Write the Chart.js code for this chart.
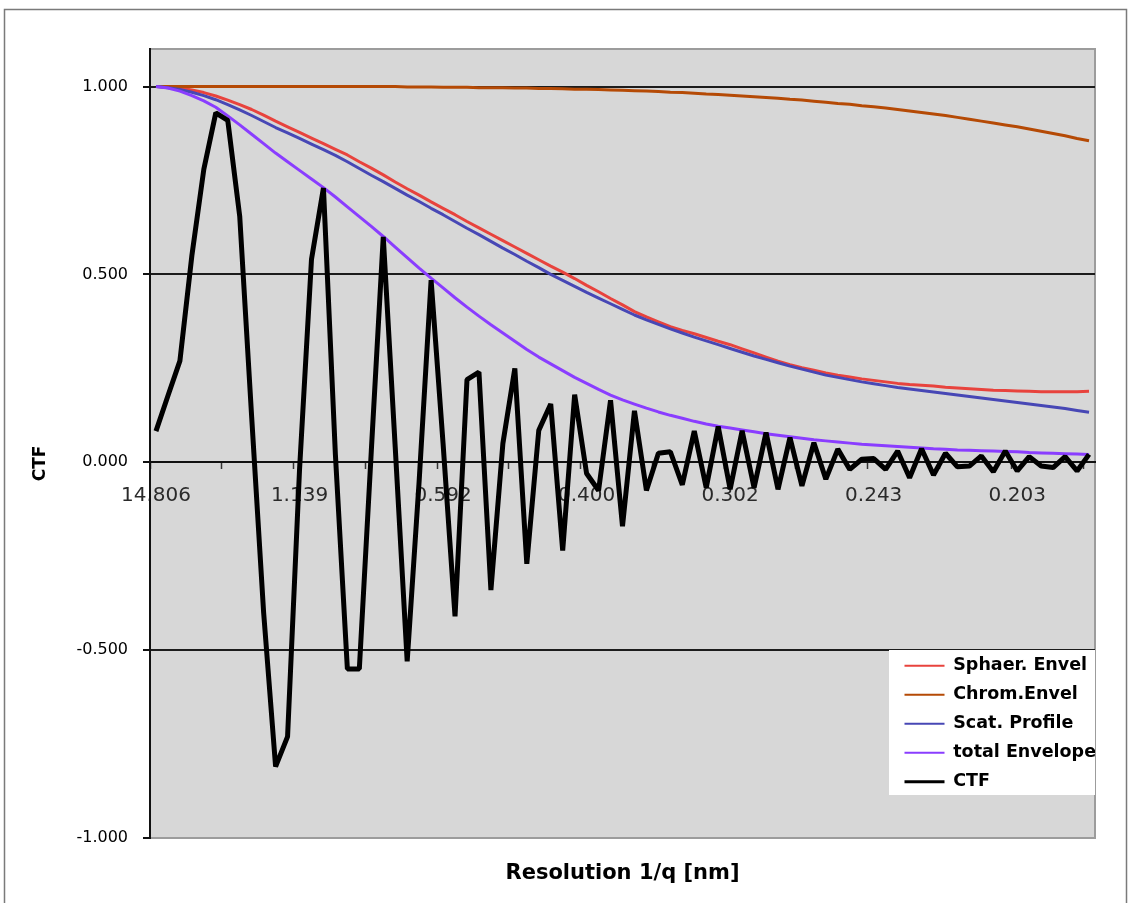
<!DOCTYPE html>
<html>
<head>
<meta charset="utf-8">
<title>CTF</title>
<script src="https://cdn.jsdelivr.net/npm/chart.js@4/dist/chart.umd.min.js"></script>
<style>
  html, body { margin: 0; padding: 0; background: #ffffff; }
  #c { display: block; }
</style>
</head>
<body>
<canvas id="c" width="1131" height="903"></canvas>
<script>
// ---- categories: resolution 1/q [nm] ----
const categories = [
  '14.806','7.403','4.935','3.702','2.961','2.468','2.115','1.851','1.645','1.481',
  '1.346','1.234','1.139','1.058','0.987','0.925','0.871','0.823','0.779','0.740',
  '0.705','0.673','0.644','0.617','0.592','0.569','0.548','0.529','0.511','0.494',
  '0.478','0.463','0.449','0.435','0.423','0.411','0.400','0.390','0.380','0.370',
  '0.361','0.353','0.344','0.337','0.329','0.322','0.315','0.308','0.302','0.296',
  '0.290','0.285','0.279','0.274','0.269','0.264','0.260','0.255','0.251','0.247',
  '0.243','0.239','0.235','0.231','0.228','0.224','0.221','0.218','0.215','0.212',
  '0.209','0.206','0.203','0.200','0.197','0.195','0.192','0.190','0.187'
];
// ---- tick labels ----
const tickLabels = ['14.806','1.139','0.592','0.400','0.302','0.243','0.203'];
const yTickValues = [-1, -0.5, 0, 0.5, 1];

// ---- series ----
const sphaerEnvel = [
  1.000, 0.999, 0.996, 0.991, 0.984, 0.975, 0.964, 0.952, 0.939, 0.924,
  0.908, 0.893, 0.878, 0.863, 0.848, 0.833, 0.818, 0.800, 0.783, 0.765,
  0.746, 0.728, 0.711, 0.693, 0.676, 0.659, 0.641, 0.624, 0.607, 0.590,
  0.573, 0.556, 0.539, 0.522, 0.506, 0.489, 0.471, 0.454, 0.436, 0.419,
  0.401, 0.387, 0.374, 0.361, 0.351, 0.342, 0.332, 0.322, 0.313, 0.302,
  0.291, 0.280, 0.269, 0.260, 0.252, 0.245, 0.238, 0.232, 0.227, 0.222,
  0.218, 0.214, 0.210, 0.207, 0.205, 0.203, 0.200, 0.198, 0.196, 0.194,
  0.192, 0.191, 0.190, 0.189, 0.188, 0.188, 0.188, 0.188, 0.189
];
const chromEnvel = [
  1.000, 1.000, 1.000, 1.000, 1.000, 1.000, 1.000, 1.000, 1.000, 1.000,
  1.000, 1.000, 1.000, 1.000, 1.000, 1.000, 1.000, 1.000, 1.000, 1.000,
  1.000, 0.999, 0.999, 0.999, 0.998, 0.998, 0.998, 0.997, 0.997, 0.997,
  0.996, 0.996, 0.995, 0.995, 0.994, 0.993, 0.993, 0.992, 0.991, 0.990,
  0.989, 0.988, 0.987, 0.985, 0.984, 0.982, 0.980, 0.979, 0.977, 0.975,
  0.973, 0.971, 0.969, 0.966, 0.964, 0.961, 0.958, 0.955, 0.953, 0.949,
  0.946, 0.943, 0.939, 0.935, 0.931, 0.927, 0.923, 0.918, 0.913, 0.908,
  0.903, 0.898, 0.893, 0.887, 0.881, 0.875, 0.869, 0.862, 0.856
];
const scatProfile = [
  1.000, 0.997, 0.992, 0.985, 0.976, 0.965, 0.952, 0.938, 0.923, 0.907,
  0.891, 0.877, 0.862, 0.847, 0.832, 0.817, 0.800, 0.782, 0.764, 0.747,
  0.729, 0.711, 0.694, 0.676, 0.659, 0.641, 0.623, 0.606, 0.588, 0.570,
  0.553, 0.535, 0.518, 0.500, 0.484, 0.468, 0.452, 0.437, 0.422, 0.407,
  0.392, 0.379, 0.367, 0.355, 0.344, 0.333, 0.323, 0.313, 0.303, 0.293,
  0.283, 0.274, 0.265, 0.256, 0.248, 0.240, 0.232, 0.226, 0.220, 0.214,
  0.209, 0.204, 0.199, 0.195, 0.191, 0.187, 0.183, 0.179, 0.175, 0.171,
  0.167, 0.163, 0.159, 0.155, 0.151, 0.147, 0.143, 0.138, 0.133
];
const totalEnvelope = [
  1.000, 0.996, 0.988, 0.976, 0.962, 0.945, 0.922, 0.898, 0.873, 0.848,
  0.823, 0.800, 0.777, 0.754, 0.731, 0.706, 0.680, 0.654, 0.628, 0.601,
  0.573, 0.545, 0.517, 0.490, 0.464, 0.438, 0.413, 0.389, 0.366, 0.344,
  0.322, 0.300, 0.280, 0.262, 0.244, 0.226, 0.210, 0.194, 0.179, 0.166,
  0.155, 0.144, 0.134, 0.125, 0.117, 0.109, 0.102, 0.096, 0.091, 0.086,
  0.081, 0.076, 0.072, 0.068, 0.064, 0.060, 0.057, 0.054, 0.051, 0.048,
  0.046, 0.044, 0.042, 0.040, 0.038, 0.036, 0.035, 0.033, 0.032, 0.031,
  0.030, 0.029, 0.028, 0.026, 0.025, 0.024, 0.023, 0.022, 0.021
];
const ctf = [
  0.083, 0.177, 0.270, 0.550, 0.780, 0.930, 0.910, 0.655, 0.120, -0.400,
  -0.810, -0.730, -0.020, 0.540, 0.730, 0.020, -0.550, -0.550, 0.030, 0.600,
  0.040, -0.530, -0.050, 0.485, 0.050, -0.410, 0.220, 0.240, -0.340, 0.050,
  0.250, -0.270, 0.085, 0.155, -0.235, 0.180, -0.030, -0.075, 0.165, -0.170,
  0.137, -0.075, 0.024, 0.028, -0.060, 0.083, -0.068, 0.095, -0.072, 0.084,
  -0.068, 0.079, -0.072, 0.066, -0.063, 0.052, -0.045, 0.035, -0.019, 0.008,
  0.010, -0.019, 0.030, -0.041, 0.036, -0.034, 0.024, -0.012, -0.010, 0.017,
  -0.025, 0.030, -0.023, 0.015, -0.010, -0.014, 0.015, -0.023, 0.021
];

// ---- styling / layout constants ----
const FONT = '"DejaVu Sans", Verdana, sans-serif';
const LABEL_STEP = 12;   // a category label every 12 categories
const TICK_STEP = 6;     // a tick mark every 6 categories
const LEGEND_BG = { x: 889, y: 650, w: 206, h: 145 };
const LEGEND_ORIGIN = { x: 893, y: 645.5 };
const Y_TITLE_SHIFT = 20; // the y title sits lower than the plot centre

const plotBackground = {
  id: 'plotBackground',
  beforeDraw(chart) {
    const { ctx, chartArea: a } = chart;
    ctx.save();
    ctx.fillStyle = '#ffffff';
    ctx.fillRect(0, 0, chart.width, chart.height);
    ctx.strokeStyle = '#7a7a7a';
    ctx.lineWidth = 1.5;
    ctx.strokeRect(4.5, 9.5, 1122, 900);
    ctx.fillStyle = '#d7d7d7';
    ctx.fillRect(a.left, a.top, a.right - a.left, a.bottom - a.top);
    ctx.strokeStyle = '#9c9c9c';
    ctx.lineWidth = 2;
    ctx.strokeRect(a.left, a.top, a.right - a.left, a.bottom - a.top);
    ctx.restore();
  }
};

const legendPlacement = {
  id: 'legendPlacement',
  afterLayout(chart) {
    const lg = chart.legend;
    if (!lg) return;
    lg.left = LEGEND_ORIGIN.x;
    lg.top = LEGEND_ORIGIN.y;
    lg.width = LEGEND_BG.x + LEGEND_BG.w - LEGEND_ORIGIN.x;
    lg.height = 200;
    lg.right = lg.left + lg.width;
    lg.bottom = lg.top + lg.height;
    if (!lg._bgWrapped) {
      const orig = lg.draw;
      lg.draw = function (area) {
        const c = this.ctx;
        c.save();
        c.fillStyle = '#ffffff';
        c.fillRect(LEGEND_BG.x, LEGEND_BG.y, LEGEND_BG.w, LEGEND_BG.h);
        c.restore();
        orig.call(this, area);
      };
      lg._bgWrapped = true;
    }
  }
};

// shifts the y axis title down along the axis (it is drawn by the axis itself)
const yTitleShift = {
  id: 'yTitleShift',
  afterLayout(chart) {
    const y = chart.scales.y;
    if (!y || y._titleWrapped) return;
    const origTitle = y.drawTitle;
    y.drawTitle = function () {
      const c = this.ctx;
      c.save();
      c.translate(0, Y_TITLE_SHIFT);
      origTitle.call(this);
      c.restore();
    };
    y._titleWrapped = true;
  }
};

const lineSet = (label, data, color, width, order) => ({
  label, data, borderColor: color, backgroundColor: color,
  borderWidth: width, order, pointRadius: 0, tension: 0,
  borderJoinStyle: 'bevel', fill: false
});

new Chart(document.getElementById('c'), {
  type: 'line',
  data: {
    labels: categories,
    datasets: [
      lineSet('Sphaer. Envel', sphaerEnvel, '#e8433d', 3, 4),
      lineSet('Chrom.Envel', chromEnvel, '#b54a05', 3, 3),
      lineSet('Scat. Profile', scatProfile, '#4747b5', 3, 2),
      lineSet('total Envelope', totalEnvelope, '#8a3dff', 3, 1),
      lineSet('CTF', ctf, '#000000', 5, 0)
    ]
  },
  options: {
    responsive: false,
    animation: false,
    devicePixelRatio: 1,
    events: [],
    layout: { padding: { left: 28, right: 36, top: 49, bottom: 0 } },
    plugins: {
      tooltip: { enabled: false },
      title: { display: false },
      legend: {
        position: 'chartArea',
        align: 'start',
        labels: {
          font: { family: FONT, size: 17.5, weight: 'bold' },
          color: '#000000',
          usePointStyle: true,
          pointStyle: 'line',
          pointStyleWidth: 40,
          boxHeight: 17.5,
          padding: 11.5,
          sort: (a, b) => a.datasetIndex - b.datasetIndex,
          generateLabels: (chart) =>
            Chart.defaults.plugins.legend.labels.generateLabels(chart).map(it =>
              Object.assign({}, it, { lineWidth: it.datasetIndex === 4 ? 3 : 2.2, pointStyle: 'line' }))
        }
      }
    },
    scales: {
      x: {
        type: 'category',
        offset: true,
        position: { y: 0 },
        grid: {
          offset: true,
          drawOnChartArea: false,
          drawTicks: true,
          tickLength: 6,
          tickWidth: 1.5,
          tickColor: (c) => (c.index % TICK_STEP === 0 ? '#333333' : 'rgba(0,0,0,0)')
        },
        border: { display: true, color: '#111111', width: 2 },
        ticks: {
          autoSkip: false,
          maxRotation: 0,
          minRotation: 0,
          padding: 16,
          color: '#2a2a2a',
          font: { family: FONT, size: 20 },
          callback: (v, i) => (i % LABEL_STEP === 0 ? tickLabels[i / LABEL_STEP] : '')
        }
      },
      x2: {
        type: 'category',
        position: 'bottom',
        grid: { display: false },
        border: { display: false },
        ticks: { display: false },
        title: {
          display: true,
          text: 'Resolution 1/q [nm]',
          color: '#000000',
          font: { family: FONT, size: 21, weight: 'bold' },
          padding: { top: 0, bottom: 17 }
        },
        afterFit: (s) => { s.height = 65; }
      },
      y: {
        type: 'linear',
        min: -1,
        max: 1.1,
        afterBuildTicks: (s) => { s.ticks = yTickValues.map(v => ({ value: v })); },
        grid: {
          color: (c) => (c.tick && c.tick.value === -1 ? '#9c9c9c' : '#1c1c1c'),
          lineWidth: 2,
          drawTicks: true,
          tickLength: 7,
          tickColor: '#111111',
          tickWidth: 2
        },
        border: { display: true, color: '#111111', width: 2 },
        ticks: {
          padding: 15,
          color: '#000000',
          font: { family: FONT, size: 16 },
          callback: (v) => Number(v).toFixed(3)
        },
        title: {
          display: true,
          text: 'CTF',
          color: '#000000',
          font: { family: FONT, size: 17, weight: 'bold' },
          padding: { top: 2, bottom: 0 }
        },
        afterFit: (s) => { s.width = 122; }
      }
    }
  },
  plugins: [plotBackground, legendPlacement, yTitleShift]
});
</script>
</body>
</html>
